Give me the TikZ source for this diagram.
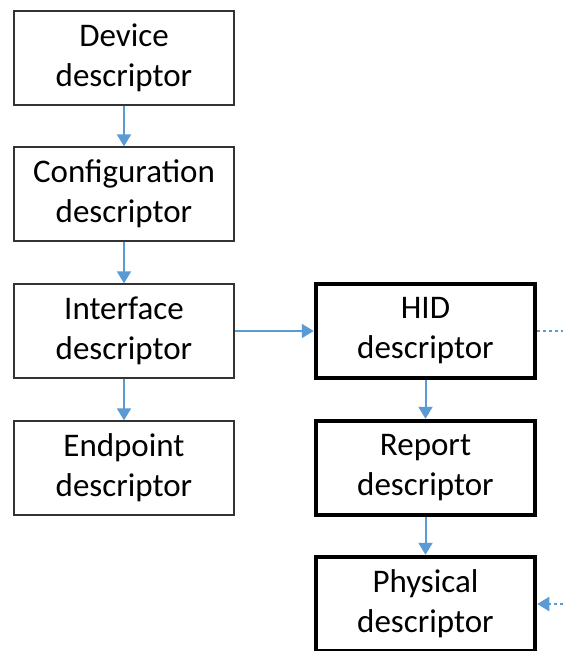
\documentclass[tikz,border=0pt]{standalone}
\usepackage{fontspec}
\setmainfont{Carlito}
\usepackage{xcolor}
\usetikzlibrary{arrows.meta}
\definecolor{arrowblue}{RGB}{91,155,213}

\begin{document}
\begin{tikzpicture}[x=1pt, y=-1pt,
  desc/.style={rectangle, draw=black!80, line width=1.3pt, minimum width=220pt, minimum height=94pt, align=center, inner sep=0pt, font=\fontsize{33}{40}\selectfont},
  hid/.style={desc, draw=black, line width=4.5pt, minimum width=219pt},
  link/.style={draw=arrowblue, line width=2pt, -{Triangle[length=12pt, width=14pt]}}]

\useasboundingbox (0,0) rectangle (563,651);

% Boxes
\node[desc] (device) at (124,58) {Device\\descriptor};
\node[desc] (config) at (124,194) {Configuration\\descriptor};
\node[desc] (iface) at (124,331) {Interface\\descriptor};
\node[desc] (endpoint) at (124,468) {Endpoint\\descriptor};
\node[hid] (hiddesc) at (425.5,331) {HID\\descriptor};
\node[hid] (report) at (425.5,468) {Report\\descriptor};
\node[hid] (physical) at (425.5,604) {Physical\\descriptor};

\coordinate (more) at (563,331);
\coordinate (back) at (563,604);

%Lines
\draw[link] (device) -- (config);
\draw[link] (config) -- (iface);
\draw[link] (iface) -- (endpoint);
\draw[link] (iface) -- (hiddesc);
\draw[link] (hiddesc) -- (report);
\draw[link] (report) -- (physical);
\draw[link, -, dash pattern=on 3pt off 3pt] (hiddesc.east) -- (more);
\draw[link, dash pattern=on 3pt off 3pt] (back) -- (physical.east);
\end{tikzpicture}
\end{document}
